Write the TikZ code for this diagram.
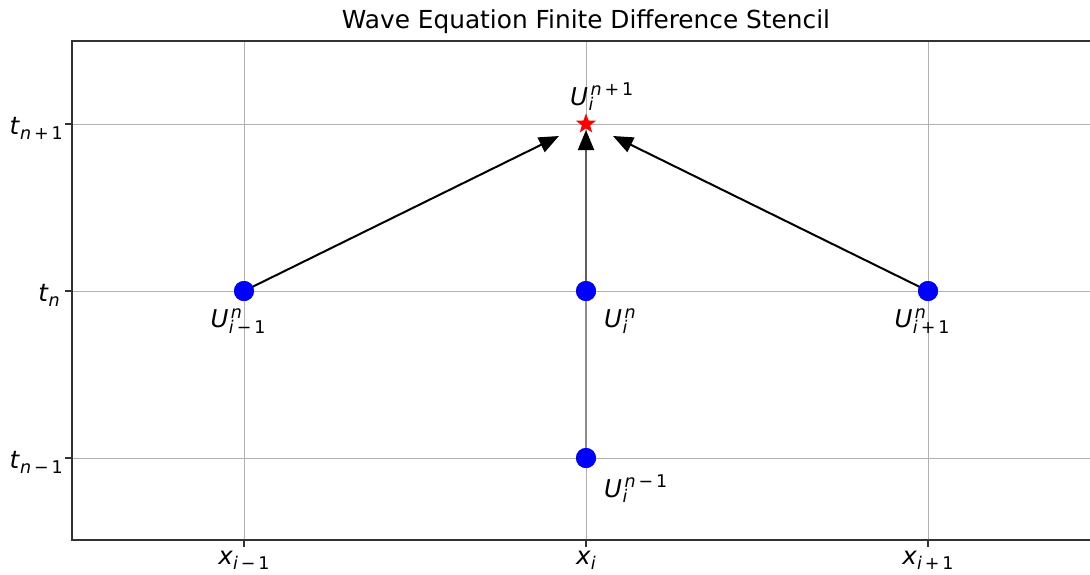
\documentclass[tikz,border=0pt]{standalone}
\usepackage{fontspec}
\setmainfont{DejaVu Sans}
\usetikzlibrary{arrows.meta,shapes.geometric}
\def\bigsz{\fontsize{24.5}{24.5}\selectfont}
\def\smsz{\fontsize{17.5}{17.5}\selectfont}
\newcommand\tlab[2]{{\bigsz\textit{#1}\raisebox{-5pt}{\smsz #2}}}
\newcommand\supsub[2]{\begingroup\smsz\setbox0\hbox{\raisebox{-5.5pt}{#1}}\setbox2\hbox{\kern2pt\raisebox{9.5pt}{#2}}\ifdim\wd0>\wd2 \rlap{\box2}\box0 \else\rlap{\box0}\box2 \fi\endgroup}
\newcommand\ulab[2]{{\bigsz\textit{U}\kern0.5pt\supsub{#1}{#2}}}
\definecolor{gridc}{HTML}{B0B0B0}
\tikzset{
  gridline/.style={draw=gridc, line width=1pt},
  spine/.style={draw=black!80, line width=1.4pt},
  tickmark/.style={draw=black!80, line width=1.1pt},
  dot/.style={circle, fill=blue, inner sep=0pt, minimum size=20pt},
  starmark/.style={star, star points=5, star point ratio=2.4, fill=red, inner sep=0pt, minimum size=21pt},
  stencilarrow/.style={line width=2pt, -{Triangle[length=20pt,width=16pt,color=black]}},
  lab/.style={inner sep=0pt}
}
\begin{document}
\begin{tikzpicture}[x=1pt,y=-1pt]
\useasboundingbox (0,0) rectangle (1090,574);
% grid
\foreach \gx in {244,586,928} \draw[gridline] (\gx,41) -- (\gx,540);
\foreach \gy in {124,291,458} \draw[gridline] (72,\gy) -- (1090,\gy);
% ticks
\foreach \gx in {244,586,928} \draw[tickmark] (\gx,540) -- (\gx,547);
\foreach \gy in {124,291,458} \draw[tickmark] (65,\gy) -- (72,\gy);
% spines
\draw[spine] (1090,41) -- (72,41) -- (72,540) -- (1090,540);
% title
\node[lab] (title) at (586,22) {\fontsize{24.8}{24.8}\selectfont Wave Equation Finite Difference Stencil};
% tick labels
\node[lab, anchor=north] (xl1) at (244,551) {\tlab{x}{\textit{i}\,−\,1}};
\node[lab, anchor=north] (xl2) at (586,551) {\tlab{x}{\textit{i}}};
\node[lab, anchor=north] (xl3) at (928,551) {\tlab{x}{\textit{i}\,+\,1}};
\node[lab, anchor=east] (yl1) at (63,128) {\tlab{t}{\textit{n}\,+\,1}};
\node[lab, anchor=east] (yl2) at (60,295) {\tlab{t}{\textit{n}}};
\node[lab, anchor=east] (yl3) at (63,462) {\tlab{t}{\textit{n}\,−\,1}};
% tips
\coordinate (tipl) at (559,136);
\coordinate (tipc) at (586,130);
\coordinate (tipr) at (613,136);
% points
\node[dot] (pl) at (244,291) {};
\node[dot] (pc) at (586,291) {};
\node[dot] (pr) at (928,291) {};
\node[dot] (pb) at (586,458) {};
% arrows
\draw[line width=2pt, draw=black!45] (pb.center) -- (pc.center);
\draw[stencilarrow, draw=black!62] (pc.center) -- (tipc);
\draw[stencilarrow] (pl.center) -- (tipl);
\draw[stencilarrow] (pr.center) -- (tipr);
\node[dot] at (pl) {};
\node[dot] at (pc) {};
\node[dot] at (pr) {};
\node[dot] at (pb) {};
\node[starmark] (ps) at (586,124) {};
% point labels
\node[lab, anchor=north] (ul) at (238,308) {\ulab{\textit{i}\,−\,1}{\textit{n}}};
\node[lab, anchor=north west] (uc) at (604,308) {\ulab{\textit{i}}{\textit{n}}};
\node[lab, anchor=north] (ur) at (922,308) {\ulab{\textit{i}\,+\,1}{\textit{n}}};
\node[lab, anchor=north west] (ub) at (604,475) {\ulab{\textit{i}}{\textit{n}\,−\,1}};
\node[lab, anchor=north west] (ut) at (570,83) {\ulab{\textit{i}}{\textit{n}\,+\,1}};
\end{tikzpicture}
\end{document}
